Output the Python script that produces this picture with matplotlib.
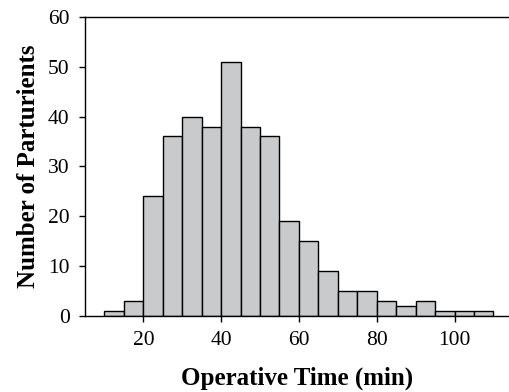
import numpy as np
import matplotlib
matplotlib.use("Agg")
import matplotlib.pyplot as plt

# histogram bins (min) and counts
bin_edges = np.arange(10, 115, 5)
counts = [1, 3, 24, 36, 40, 38, 51, 38, 36, 19, 15, 9, 5, 5, 3, 2, 3, 1, 1, 1]
x_ticks = [20, 40, 60, 80, 100]
y_ticks = [0, 10, 20, 30, 40, 50, 60]

plt.rcParams['font.family'] = ['Liberation Serif', 'DejaVu Serif']

fig = plt.figure(figsize=(5.09, 3.92), dpi=100)
ax = fig.add_axes([0.167, 0.194, 0.833, 0.763])

ax.bar(bin_edges[:-1], counts, width=5, align='edge',
       color='#c9cacc', edgecolor='black', linewidth=1.0)

ax.set_xlim(5, 114)
ax.set_ylim(0, 60)
ax.set_xticks(x_ticks)
ax.set_yticks(y_ticks)
ax.tick_params(labelsize=15.5, length=4, width=1, direction='out')
ax.tick_params(axis='y', pad=7)
ax.tick_params(axis='x', pad=7)
ax.spines['right'].set_visible(False)
for s in ['left', 'bottom', 'top']:
    ax.spines[s].set_linewidth(1)

ax.set_xlabel('Operative Time (min)', fontsize=18, fontweight='bold', labelpad=12)
ax.set_ylabel('Number of Parturients', fontsize=18, fontweight='bold', labelpad=6)

plt.savefig('out.png', dpi=100)
